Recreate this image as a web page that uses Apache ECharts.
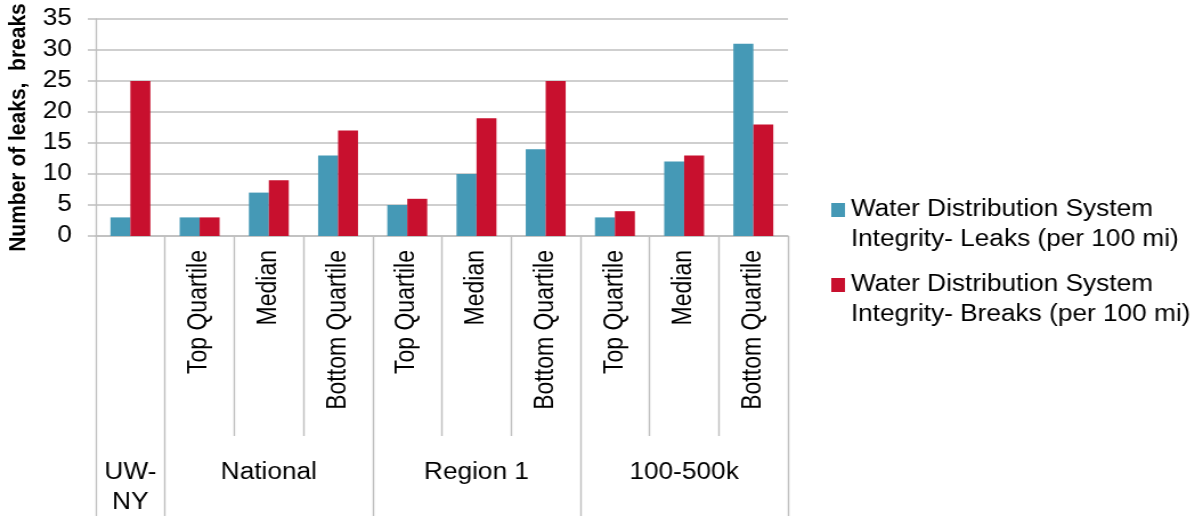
<!DOCTYPE html>
<html>
<head>
<meta charset="utf-8">
<script src="https://cdn.jsdelivr.net/npm/echarts@6/dist/echarts.min.js"></script>
<style>
  html, body { margin: 0; padding: 0; background: #ffffff; overflow: hidden; }
  /* The chart is laid out on a narrower canvas and widened to the 1203px page */
  #chart { width: 1055px; height: 516px; transform: scaleX(1.1403); transform-origin: 0 0; }
</style>
</head>
<body>
<div id="chart"></div>
<script>
// Benchmark groups and the sub-categories within each
const subCategories = ['', 'Top Quartile', 'Median', 'Bottom Quartile', 'Top Quartile', 'Median', 'Bottom Quartile', 'Top Quartile', 'Median', 'Bottom Quartile'];
const groupLabels = ['UW-\nNY', '', 'National', '', '', 'Region 1', '', '', '100-500k', ''];
const groupLabelIndex = [0, 2, 5, 8];
const groupStartIndex = [0, 1, 4, 7];

// Leaks and breaks per 100 miles of main
const leaks = [3, 3, 7, 13, 5, 10, 14, 3, 12, 31];
const breaks = [25, 3, 9, 17, 6, 19, 25, 4, 13, 18];

const yTicks = { min: 0, max: 35, interval: 5 };

const seriesNames = [
  'Water Distribution System\nIntegrity- Leaks (per 100 mi)',
  'Water Distribution System\nIntegrity- Breaks (per 100 mi)'
];

const FONT = '"Liberation Sans", Arial, sans-serif';
const GRID_GRAY = '#bfbfbf';
const TEXT = '#000000';

// Legend swatch: a square at the top of a tall box, so it sits beside the first text line
const swatch = 'path://M0,0h12v14h-12z M0,44h12';

const chart = echarts.init(document.getElementById('chart'), null, { renderer: 'canvas' });

chart.setOption({
  animation: false,
  backgroundColor: '#ffffff',
  textStyle: { fontFamily: FONT },
  grid: { left: 84, right: 364, top: 19, bottom: 280, containLabel: false, outerBoundsMode: 'none' },
  legend: {
    orient: 'vertical',
    left: 729,
    top: 195,
    padding: 0,
    itemGap: 15,
    itemWidth: 12.3,
    itemHeight: 44,
    icon: swatch,
    data: seriesNames,
    textStyle: {
      fontFamily: FONT,
      fontSize: 23,
      lineHeight: 30,
      color: TEXT
    }
  },
  xAxis: [
    {
      type: 'category',
      data: subCategories,
      position: 'bottom',
      axisLine: { show: true, lineStyle: { color: GRID_GRAY, width: 1.5 } },
      axisTick: { show: true, interval: 0, length: 200, lineStyle: { color: GRID_GRAY, width: 1.4 } },
      axisLabel: {
        interval: 0,
        rotate: 90,
        margin: 14,
        fontFamily: FONT,
        fontSize: 23,
        color: TEXT
      }
    },
    {
      type: 'category',
      data: groupLabels,
      position: 'bottom',
      offset: 200,
      axisLine: { show: false },
      axisTick: {
        show: true,
        length: 80,
        interval: function (index) { return groupStartIndex.indexOf(index) >= 0; },
        lineStyle: { color: GRID_GRAY, width: 1.4 }
      },
      axisLabel: {
        interval: function (index) { return groupLabelIndex.indexOf(index) >= 0; },
        margin: 22,
        fontFamily: FONT,
        fontSize: 23,
        lineHeight: 30,
        color: TEXT,
        verticalAlign: 'top'
      }
    }
  ],
  yAxis: {
    type: 'value',
    min: yTicks.min,
    max: yTicks.max,
    interval: yTicks.interval,
    name: 'Number of leaks,  breaks',
    nameLocation: 'middle',
    nameGap: 54,
    nameTextStyle: { fontFamily: FONT, fontSize: 21, fontWeight: 'bold', color: TEXT },
    axisLine: { show: true, lineStyle: { color: GRID_GRAY, width: 1.4 } },
    axisTick: { show: true, length: 7, lineStyle: { color: GRID_GRAY, width: 1.5 } },
    axisLabel: { margin: 21, fontFamily: FONT, fontSize: 23, color: TEXT },
    splitLine: { show: true, lineStyle: { color: GRID_GRAY, width: 1.5 } }
  },
  series: [
    {
      name: seriesNames[0],
      type: 'bar',
      data: leaks,
      barWidth: 17.5,
      barGap: '0%',
      itemStyle: { color: '#4599b6' }
    },
    {
      name: seriesNames[1],
      type: 'bar',
      data: breaks,
      barWidth: 17.5,
      barGap: '0%',
      itemStyle: { color: '#c8102e' }
    }
  ]
});
</script>
</body>
</html>
